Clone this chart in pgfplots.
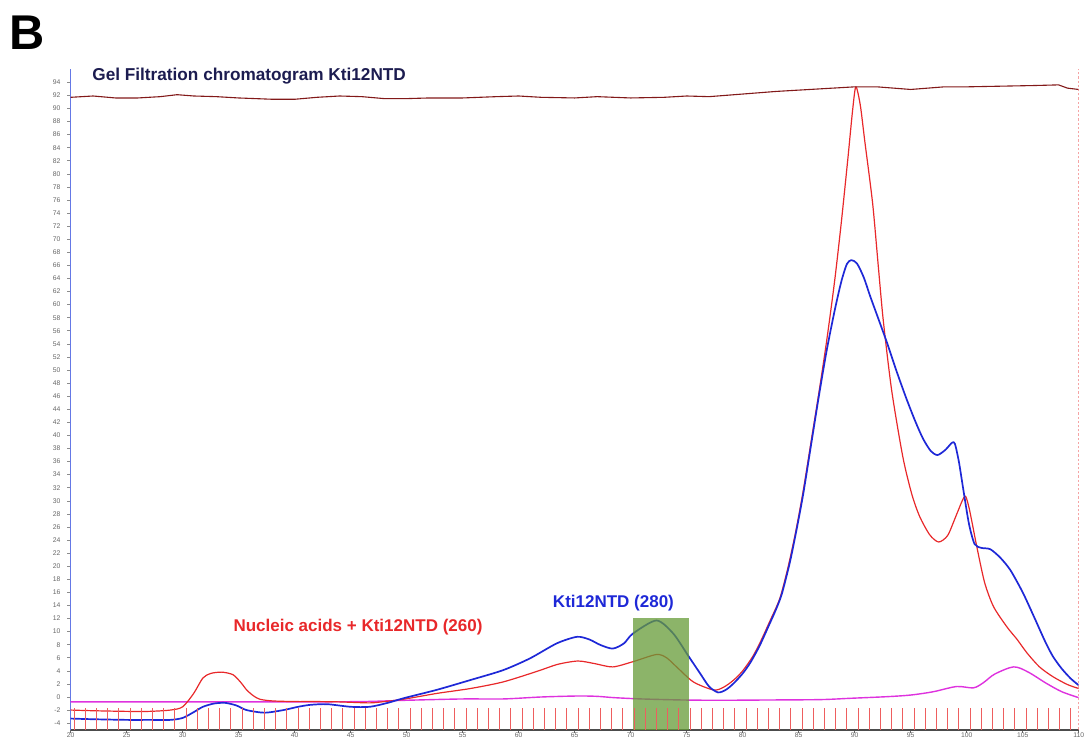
\documentclass[border=0pt]{standalone}
\usepackage{pgfplots}
\pgfplotsset{compat=1.18}
\usepackage{fontspec}
\setmainfont{Liberation Sans}

\definecolor{uvred}{RGB}{232,40,42}
\definecolor{uvblue}{RGB}{30,40,215}
\definecolor{uvpink}{RGB}{222,50,222}
\definecolor{condbrown}{RGB}{130,25,25}
\definecolor{poolgreen}{RGB}{102,155,55}
\definecolor{titlenavy}{RGB}{28,28,80}
\definecolor{yaxisblue}{RGB}{100,120,230}

\begin{document}
\begin{tikzpicture}
\useasboundingbox (-35.35pt,-6.65pt) rectangle (508.65pt,364.85pt);
\begin{axis}[
  scale only axis, width=504pt, height=330.25pt,
  xmin=20, xmax=110, ymin=-5, ymax=96,
  axis x line*=bottom, axis y line*=left,
  x axis line style={draw=black!70, line width=1.1pt, -},
  y axis line style={draw=yaxisblue, line width=0.8pt, -},
  xtick={20,25,...,110}, ytick={-4,-2,...,94},
  tick align=outside, major tick length=1.6pt,
  x tick style={black!60, line width=0.3pt},
  y tick style={black!45, line width=0.3pt},
  ticklabel style={font=\fontsize{3.4}{4}\selectfont, text=black!60},
  xticklabel style={inner sep=0.5pt, yshift=0.6pt},
  /pgf/number format/assume math mode=true,
  every axis plot/.append style={line join=round},
]
% fraction markers
\addplot[only marks, mark=|, mark size=5.4pt, mark options={uvred!75, line width=0.4pt}] coordinates {
(20.3,-3.35) (21.3,-3.35) (22.3,-3.35) (23.3,-3.35) (24.3,-3.35) (25.3,-3.35) (26.3,-3.35) (27.3,-3.35) (28.3,-3.35) (29.3,-3.35)
(30.3,-3.35) (31.3,-3.35) (32.3,-3.35) (33.3,-3.35) (34.3,-3.35) (35.3,-3.35) (36.3,-3.35) (37.3,-3.35) (38.3,-3.35) (39.3,-3.35)
(40.3,-3.35) (41.3,-3.35) (42.3,-3.35) (43.3,-3.35) (44.3,-3.35) (45.3,-3.35) (46.3,-3.35) (47.3,-3.35) (48.3,-3.35) (49.3,-3.35)
(50.3,-3.35) (51.3,-3.35) (52.3,-3.35) (53.3,-3.35) (54.3,-3.35) (55.3,-3.35) (56.3,-3.35) (57.3,-3.35) (58.3,-3.35) (59.3,-3.35)
(60.3,-3.35) (61.3,-3.35) (62.3,-3.35) (63.3,-3.35) (64.3,-3.35) (65.3,-3.35) (66.3,-3.35) (67.3,-3.35) (68.3,-3.35) (69.3,-3.35)
(70.3,-3.35) (71.3,-3.35) (72.3,-3.35) (73.3,-3.35) (74.3,-3.35) (75.3,-3.35) (76.3,-3.35) (77.3,-3.35) (78.3,-3.35) (79.3,-3.35)
(80.3,-3.35) (81.3,-3.35) (82.3,-3.35) (83.3,-3.35) (84.3,-3.35) (85.3,-3.35) (86.3,-3.35) (87.3,-3.35) (88.3,-3.35) (89.3,-3.35)
(90.3,-3.35) (91.3,-3.35) (92.3,-3.35) (93.3,-3.35) (94.3,-3.35) (95.3,-3.35) (96.3,-3.35) (97.3,-3.35) (98.3,-3.35) (99.3,-3.35)
(100.3,-3.35) (101.3,-3.35) (102.3,-3.35) (103.3,-3.35) (104.3,-3.35) (105.3,-3.35) (106.3,-3.35) (107.3,-3.35) (108.3,-3.35) (109.3,-3.35)
};
% pink trace
\addplot[uvpink, line width=0.7pt, smooth] coordinates {
(20,-0.75) (30,-0.75) (40,-0.75) (46,-0.7) (50,-0.5) (55,-0.3) (58.6,-0.3) (62,0) (65.2,0.15) (67,0.1)
(68.5,-0.1) (71,-0.3) (74.7,-0.46) (78,-0.5) (82.1,-0.46) (86.9,-0.4) (89.6,-0.2) (92.9,0.05) (95,0.3)
(97,0.8) (99.1,1.6) (100.6,1.4) (101.5,2.2) (102.5,3.5) (104.2,4.6) (105.5,3.8) (107.1,2.1) (108.5,0.8) (110,-0.1)
};
% UV 260
\addplot[uvred, line width=0.6pt, smooth, tension=0.45] coordinates {
(20,-2.0) (22,-2.1) (25,-2.2) (27,-2.2) (28.9,-2.0) (30,-1.5) (31,0.6) (31.8,2.9) (32.5,3.6) (33.5,3.8)
(34.5,3.4) (35.2,2.2) (35.7,1.1) (36.3,0.2) (36.9,-0.35) (38,-0.6) (40,-0.7) (42,-0.7) (44,-0.75) (46.7,-0.9)
(48,-0.7) (49.7,-0.35) (52.7,0.55) (55.7,1.3) (58.6,2.3) (61.6,3.9) (63.5,5.0) (65.3,5.5) (66.8,5.1) (68.4,4.6)
(70.2,5.4) (72.3,6.5) (73.2,6.0) (74.1,4.6) (75.6,2.3) (77.4,1.07) (78.3,1.5) (79.2,2.6) (80,4) (80.9,6.2)
(81.6,8.5) (82.4,11.5) (83.3,15) (84,19.5) (84.7,25) (85.4,31.5) (86.1,39) (86.8,46.5) (87.5,54.5) (88.2,63.5)
(88.8,72.5) (89.4,82.5) (89.8,89.5) (90.1,93.3) (90.5,90.5) (90.9,85) (91.6,75.5) (92.1,66) (92.55,57.6) (93.3,46.9)
(94.3,36.7) (95.1,31) (95.8,27.6) (96.7,24.8) (97.5,23.7) (98.3,24.7) (99,27.5) (99.6,30) (99.9,30.7) (100.2,29)
(100.5,26.5) (100.9,23) (101.6,17.5) (102.4,13.8) (103.6,10.7) (104.5,8.8) (105.4,6.7) (106.5,4.6) (107.7,3.1) (109,1.9)
(110,1.3)
};
% UV 280
\addplot[uvblue, line width=0.85pt, smooth, tension=0.45] coordinates {
(20,-3.3) (22,-3.4) (25,-3.5) (27,-3.5) (28.9,-3.5) (30,-3.2) (31,-2.3) (31.8,-1.5) (32.8,-1.0) (33.8,-0.9)
(34.8,-1.3) (35.7,-2.0) (37.3,-2.4) (39,-2.0) (40.3,-1.5) (41.4,-1.2) (42.9,-1.1) (45,-1.5) (46.7,-1.5) (48.3,-0.9)
(49.7,-0.2) (52.7,1.1) (55.7,2.6) (58.6,4.1) (61,5.9) (63.4,8.2) (65.2,9.2) (66.3,8.8) (67.3,7.95) (68.4,7.4)
(69.4,8.2) (70.2,9.7) (72.3,11.7) (73.8,9.7) (75.1,6.4) (76.2,3.6) (77.0,1.6) (77.8,0.7) (78.5,1.1) (79.2,2.1)
(80,3.6) (80.7,5.3) (81.5,7.8) (82.3,10.8) (83,13.5) (83.5,15.8) (84.2,20.5) (84.8,25.5) (85.4,31) (86.1,38.5)
(86.8,46) (87.5,53) (88.2,59) (88.8,63.5) (89.3,66.2) (89.7,66.8) (90.2,66.3) (90.8,64.2) (91.4,61.2) (92.1,57.9)
(92.9,54.1) (93.7,50) (94.6,45.7) (95.4,42.2) (96.1,39.5) (96.8,37.6) (97.4,37) (98.1,37.8) (98.7,38.9) (98.95,38.7)
(99.3,36) (99.7,31.7) (100.2,26.5) (100.7,23.4) (101.3,22.8) (102.1,22.6) (103,21.3) (103.9,19.4) (105,16) (106,12.3)
(107,8.5) (107.7,6.2) (108.5,4.3) (109.3,2.8) (110,1.8)
};
% conductivity
\addplot[condbrown, line width=0.55pt] coordinates {
(20,91.7) (22,91.9) (24,91.6) (26,91.6) (28,91.8) (29.5,92.1) (31,91.9) (33,91.8) (35,91.6) (38,91.4)
(40,91.4) (42,91.7) (44,91.9) (46,91.8) (48,91.5) (50,91.5) (52,91.6) (55,91.6) (58,91.8) (60,91.9)
(62,91.7) (65,91.6) (67,91.8) (70,91.6) (73,91.7) (75,91.9) (77,91.8) (80,92.2) (83,92.6) (86,92.9)
(88,93.1) (90,93.3) (92,93.3) (95,92.9) (98,93.3) (100,93.3) (103,93.4) (106,93.5) (108.2,93.6) (109,93.1)
(110,92.9)
};
% pooled fractions
\fill[poolgreen, opacity=0.75] (axis cs:70.2,-5) rectangle (axis cs:75.2,12.1);
\draw[uvred!65, line width=1.1pt, densely dotted] (axis cs:110,-5) -- (axis cs:110,96);
\node[text=uvred, font=\bfseries\fontsize{8.5}{10}\selectfont] at (axis cs:45.65,10.7) {Nucleic acids + Kti12NTD (260)};
\node[text=uvblue, font=\bfseries\fontsize{8.5}{10}\selectfont] at (axis cs:68.46,14.4) {Kti12NTD (280)};
\end{axis}
\node[anchor=base west, inner sep=0pt, text=titlenavy, font=\bfseries\fontsize{8.6}{10}\selectfont] at (10.65pt,324.35pt) {Gel Filtration chromatogram Kti12NTD};
\node[font=\bfseries\fontsize{24.4}{28}\selectfont] at (-21.6pt,348.6pt) {B};
\end{tikzpicture}
\end{document}
